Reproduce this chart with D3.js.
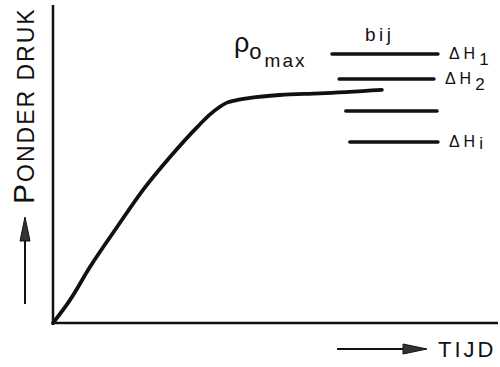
<!DOCTYPE html>
<html>
<head>
<meta charset="utf-8">
<script src="https://cdn.jsdelivr.net/npm/d3@7"></script>
<style>
  body { margin: 0; background: #fff; }
  text { font-family: "Liberation Sans", Arial, sans-serif; fill: #111; }
</style>
</head>
<body>
<script>
// ponderdruk tegen tijd (schetsmatig, waarden 0..100)
const tijd = [0, 3.8, 8.3, 14.4, 20.2, 26.3, 32.4, 35.3, 37.5, 39.1, 41.3, 44.3, 51.0, 60.0, 73.9];
const druk = [0, 7.2, 17.6, 30.2, 41.8, 52.2, 61.6, 65.6, 68.0, 69.3, 70.1, 70.8, 71.7, 72.2, 73.3];

// niveaus bij verschillende ΔH
const niveaus = [84.6, 76.7, 66.7, 56.9];
const startT = [62.7, 64.3, 65.8, 66.7];
const eindT = [86.5, 85.6, 86.3, 86.5];
const indexen = ["1", "2", "", "i"];

const width = 500, height = 367;

const svg = d3.select("body")
    .append("svg")
    .attr("width", width)
    .attr("height", height);

const x = d3.scaleLinear().domain([0, 100]).range([53, 498]);
const y = d3.scaleLinear().domain([0, 100]).range([323, 5]);

// assen
svg.append("line")
    .attr("x1", x(0)).attr("x2", x(0))
    .attr("y1", y(0) + 2).attr("y2", y(100))
    .attr("stroke", "#111").attr("stroke-width", 2.5);
svg.append("line")
    .attr("x1", x(0) - 1).attr("x2", x(100))
    .attr("y1", y(0)).attr("y2", y(0))
    .attr("stroke", "#111").attr("stroke-width", 2.5);

// curve
const punten = tijd.map((t, i) => [t, druk[i]]);
const lijn = d3.line()
    .x(d => x(d[0]))
    .y(d => y(d[1]))
    .curve(d3.curveMonotoneX);
svg.append("path")
    .datum(punten)
    .attr("d", lijn)
    .attr("fill", "none")
    .attr("stroke", "#111")
    .attr("stroke-width", 3.8)
    .attr("stroke-linecap", "round");

// horizontale streepjes
svg.selectAll(".niveau")
    .data(niveaus)
    .enter()
    .append("line")
    .attr("class", "niveau")
    .attr("x1", (d, i) => x(startT[i]))
    .attr("x2", (d, i) => x(eindT[i]))
    .attr("y1", d => y(d))
    .attr("y2", d => y(d))
    .attr("stroke", "#111")
    .attr("stroke-width", 3.5)
    .attr("stroke-linecap", "round");

// ΔH labels
niveaus.forEach((d, i) => {
    if (indexen[i] === "") return;
    const t = svg.append("text")
        .attr("x", x(eindT[i]) + 11)
        .attr("y", y(d) + 5)
        .attr("font-size", 16)
        .attr("letter-spacing", 4);
    t.append("tspan").text("ΔH");
    t.append("tspan")
        .attr("dy", indexen[i] === "i" ? 2 : 6)
        .attr("font-size", 17)
        .text(indexen[i]);
});

// bij
svg.append("text")
    .attr("x", 365).attr("y", 41)
    .attr("font-size", 19)
    .attr("letter-spacing", 3.5)
    .text("bij");

// ρ o max
const rho = svg.append("text")
    .attr("x", 234).attr("y", 52)
    .attr("font-size", 27);
rho.append("tspan").text("ρ");
rho.append("tspan").attr("dy", 7).attr("font-size", 22).text("o");
rho.append("tspan").attr("dx", 3).attr("dy", 8).attr("font-size", 19)
    .attr("letter-spacing", 2).text("max");

// y-as label met pijl
svg.append("text")
    .attr("transform", "translate(34,204) rotate(-90)")
    .attr("font-size", 23)
    .attr("letter-spacing", 2)
    .call(t => {
        t.append("tspan").attr("font-size", 30).text("P");
        t.append("tspan").text("ONDER DRUK");
    });
svg.append("line")
    .attr("x1", 25).attr("x2", 25)
    .attr("y1", 304).attr("y2", 236)
    .attr("stroke", "#111").attr("stroke-width", 2);
svg.append("path")
    .attr("d", "M25,217 L20,241 L30,241 Z")
    .attr("fill", "#333").attr("stroke", "#111").attr("stroke-width", 1);

// x-as label met pijl
svg.append("line")
    .attr("x1", 337).attr("x2", 406)
    .attr("y1", 349).attr("y2", 349)
    .attr("stroke", "#111").attr("stroke-width", 2);
svg.append("path")
    .attr("d", "M427,349 L403,344 L403,354 Z")
    .attr("fill", "#333").attr("stroke", "#111").attr("stroke-width", 1);
svg.append("text")
    .attr("x", 438).attr("y", 357)
    .attr("font-size", 22)
    .attr("letter-spacing", 3)
    .text("TIJD");
</script>
</body>
</html>
